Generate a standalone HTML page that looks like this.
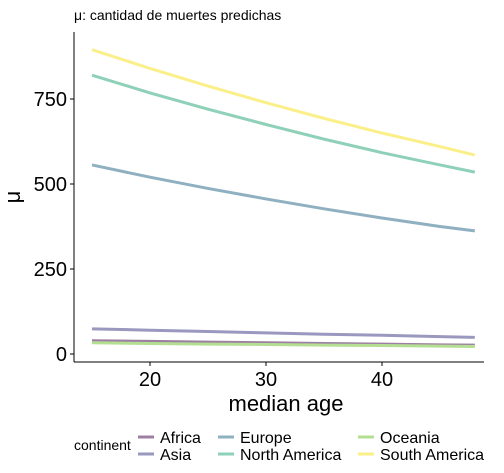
<!DOCTYPE html>
<html><head><meta charset="utf-8"><style>
body{margin:0;background:#fff;font-family:"Liberation Sans",sans-serif}
svg text{font-family:"Liberation Sans",sans-serif}
</style></head><body>
<svg id="c" width="504" height="468">
<text x="74" y="20" font-size="14" fill="#000">μ: cantidad de muertes predichas</text>
<g id="plot"></g>
</svg>
<script>
const xs=[15,20,25,30,35,40,45,48];
const continents=["Africa","Asia","Europe","North America","Oceania","South America"];
const africa=[39,37,35,33,31,29,27,26];
const asia=[74,70,66,62,58,55,51,49];
const europe=[556,520,487,456,427,400,375,362];
const northAmerica=[820,768,720,675,632,592,556,535];
const oceania=[33,31,29,28,26,25,23,22];
const southAmerica=[895,840,788,739,693,650,610,585];
const xTicks=[20,30,40];
const yTicks=[0,250,500,750];
const series=[africa,asia,europe,northAmerica,oceania,southAmerica];
const colors=["#9d7fa3","#9a98bf","#8fb0c0","#8ed0b8","#b4df92","#fbef8a"];
const X=v=>150+(v-20)*11.6;
const Y=v=>354-v*0.34;
const ns="http://www.w3.org/2000/svg";
const g=document.getElementById('plot');
function mk(t,a,p){const e=document.createElementNS(ns,t);for(const k in a)e.setAttribute(k,a[k]);(p||g).appendChild(e);return e;}
let ax=mk('line',{x1:74,y1:32,x2:74,y2:362,stroke:'#000','stroke-width':1});


ax=mk('line',{x1:74,y1:362,x2:484,y2:362,stroke:'#000','stroke-width':1});


yTicks.forEach(v=>{mk('line',{x1:70,x2:74,y1:Y(v),y2:Y(v),stroke:'#000'});
const t=mk('text',{x:67,y:Y(v)+7,'text-anchor':'end','font-size':20});t.textContent=v;

});
xTicks.forEach(v=>{mk('line',{x1:X(v),x2:X(v),y1:362,y2:366,stroke:'#000'});
const t=mk('text',{x:X(v),y:386,'text-anchor':'middle','font-size':20});t.textContent=v;

});
let t=mk('text',{x:286,y:411,'text-anchor':'middle','font-size':22});t.textContent='median age';


t=mk('text',{x:0,y:0,'text-anchor':'middle','font-size':22,transform:'translate(20,197) rotate(-90)'});t.textContent='μ';


series.forEach((s,i)=>{const p=mk('path',{d:s.map((v,j)=>(j?'L':'M')+X(xs[j])+','+Y(v)).join(' '),fill:'none',stroke:colors[i],'stroke-width':3});

});
t=mk('text',{x:74,y:450,'font-size':14});t.textContent='continent';


const lx=[138,218,358],ly=[437,454];
continents.forEach((c,i)=>{const col=Math.floor(i/2),row=i%2;
const l=mk('line',{x1:lx[col],x2:lx[col]+16,y1:ly[row],y2:ly[row],stroke:colors[i],'stroke-width':3});


const tt=mk('text',{x:lx[col]+22,y:ly[row]+6,'font-size':16});tt.textContent=c;

});
</script>
</body></html>
